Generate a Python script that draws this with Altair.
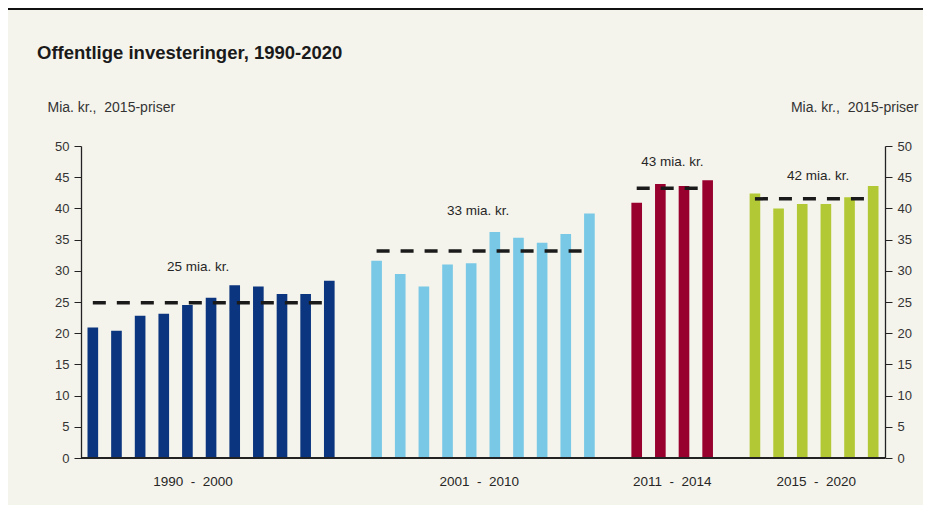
import altair as alt
import pandas as pd

# ---- data ----
years = list(range(1990, 2021))
values = [20.9, 20.4, 22.8, 23.1, 24.5, 25.7, 27.7, 27.5, 26.3, 26.3, 28.4,
          31.6, 29.5, 27.5, 31.0, 31.2, 36.2, 35.3, 34.5, 35.9, 39.2,
          40.9, 43.9, 43.6, 44.5,
          42.4, 40.0, 40.7, 40.7, 41.8, 43.6]
period_names = ["1990\u00a0 -\u00a0 2000", "2001\u00a0 -\u00a0 2010",
                "2011\u00a0 -\u00a0 2014", "2015\u00a0 -\u00a0 2020"]
period_start = [1990, 2001, 2011, 2015]
period_end = [2000, 2010, 2014, 2020]
title_text = "Offentlige investeringer, 1990-2020"
unit_text = "Mia. kr.,\u00a0 2015-priser"

# ---- styles ----
period_colors = ["#0B357E", "#78C8E6", "#98002E", "#B2C935"]
FONT = "Arial, Liberation Sans, sans-serif"
TXT = "#262626"
W, H = 804, 312
PAD = {"left": 73, "top": 138, "right": 38, "bottom": 47}
text_style = {
    period_names[0]: dict(anchor="1995", dx_lab=-18, dx_ann=-13, dy_ann=-36),
    period_names[1]: dict(anchor="2005", dx_lab=8, dx_ann=7, dy_ann=-40),
    period_names[2]: dict(anchor="2012", dx_lab=12, dx_ann=12, dy_ann=-26),
    period_names[3]: dict(anchor="2017", dx_lab=14, dx_ann=16, dy_ann=-23),
}

# ---- table ----
def period_of(y):
    for n, s, e in zip(period_names, period_start, period_end):
        if s <= y <= e:
            return n

df = pd.DataFrame({
    "year": years,
    "slot": [str(y) for y in years],
    "value": values,
    "period": [period_of(y) for y in years],
})

slot_domain = []
for i, (s, e) in enumerate(zip(period_start, period_end)):
    slot_domain += [str(y) for y in range(s, e + 1)]
    if i < len(period_start) - 1:
        slot_domain.append(" " * (i + 1))

x_scale = alt.Scale(domain=slot_domain, paddingInner=0.55, paddingOuter=0.275)
y_scale = alt.Scale(domain=[0, 50], nice=False)
ticks = list(range(0, 51, 5))

base = alt.Chart(df)

bars = base.mark_bar().encode(
    x=alt.X("slot:N", scale=x_scale, sort=slot_domain, axis=None),
    y=alt.Y("value:Q", scale=y_scale,
            axis=alt.Axis(orient="left", values=ticks, grid=False, tickSize=7,
                          labelPadding=5, domainWidth=1.3,
                          title=unit_text, titleAngle=0,
                          titleX=-34, titleY=-35, titleAlign="left",
                          titleBaseline="alphabetic")),
    color=alt.Color("period:N", scale=alt.Scale(domain=period_names, range=period_colors),
                    legend=None),
)

right_axis = base.mark_bar(opacity=0).encode(
    x=alt.X("slot:N", scale=x_scale, axis=None),
    y=alt.Y("value:Q", scale=y_scale,
            axis=alt.Axis(orient="right", values=ticks, grid=False, tickSize=7,
                          labelPadding=5, domainWidth=1.3,
                          title=unit_text, titleAngle=0,
                          titleX=33, titleY=-35, titleAlign="right",
                          titleBaseline="alphabetic")),
)

one = alt.Chart(pd.DataFrame({"k": [0]}))

baseline = one.mark_rule(color="#222", strokeWidth=2).encode(
    x=alt.value(0), x2=alt.value(W),
    y=alt.Y(datum=0, scale=y_scale, axis=None),
)

means = base.transform_aggregate(
    mean="mean(value)", first="min(year)", last="max(year)", groupby=["period"]
).transform_calculate(
    first_s="toString(datum.first)", last_s="toString(datum.last)"
)

rules = means.mark_rule(strokeDash=[13, 11], strokeWidth=3.5, color="#1a1a1a").encode(
    x=alt.X("first_s:N", scale=x_scale, axis=None),
    x2="last_s:N",
    y=alt.Y("mean:Q", scale=y_scale, axis=None),
)

text_layers = []
for name in period_names:
    st = text_style[name]
    sub = means.transform_filter(alt.datum.period == name).transform_calculate(
        anchor=f"'{st['anchor']}'",
        ann="format(round(datum.mean), 'd') + ' mia. kr.'",
    )
    text_layers.append(
        sub.mark_text(font=FONT, fontSize=13.5, color=TXT, dx=st["dx_ann"], dy=st["dy_ann"],
                      baseline="middle", align="center").encode(
            x=alt.X("anchor:N", scale=x_scale, axis=None),
            y=alt.Y("mean:Q", scale=y_scale, axis=None),
            text="ann:N",
        )
    )
    text_layers.append(
        sub.mark_text(font=FONT, fontSize=13.5, color=TXT, dx=st["dx_lab"],
                      baseline="alphabetic", align="center").encode(
            x=alt.X("anchor:N", scale=x_scale, axis=None),
            y=alt.value(H + 28),
            text="period:N",
        )
    )

title = one.mark_text(font=FONT, fontSize=18.5, fontWeight="bold", color="#1a1a1a",
                      align="left", baseline="alphabetic").encode(
    x=alt.value(-44), y=alt.value(-87), text=alt.value(title_text),
)

top_line = one.mark_rule(color="#111", strokeWidth=2).encode(
    x=alt.value(-PAD["left"]),
    x2=alt.value(W + PAD["right"]),
    y=alt.value(-PAD["top"] + 1),
)

chart = alt.layer(bars, right_axis, baseline, rules, *text_layers, title, top_line).resolve_axis(
    y="independent"
).properties(
    width=W, height=H,
    autosize=alt.AutoSizeParams(type="none"),
    padding=PAD,
    background="#F5F4EC",
).configure_axis(
    labelFont=FONT, labelFontSize=13, labelColor="#333",
    titleFont=FONT, titleFontSize=14, titleFontWeight="normal", titleColor="#333",
    domainColor="#222", tickColor="#222",
).configure_view(stroke=None)

chart.save("out.html", embed_options={"renderer": "svg", "actions": False})
